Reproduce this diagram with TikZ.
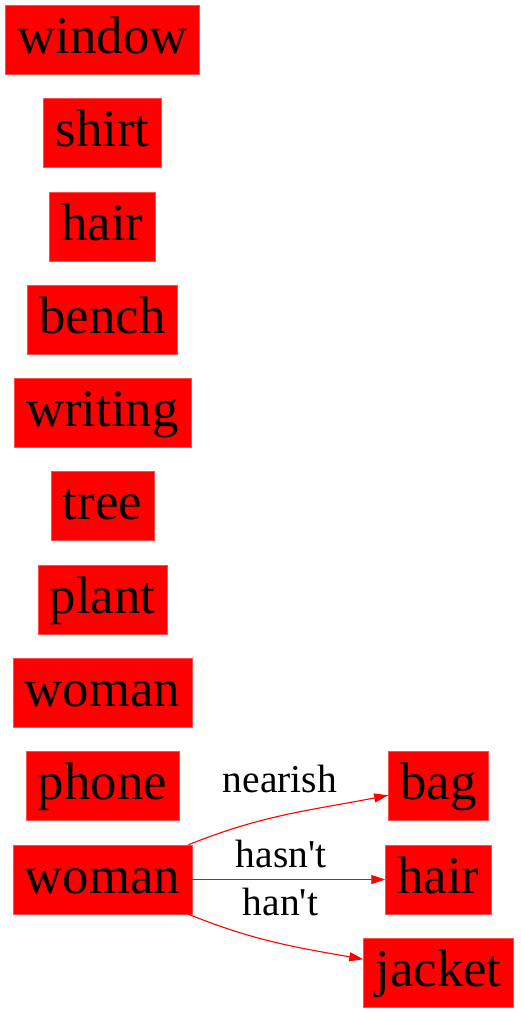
\documentclass[tikz,border=0pt]{standalone}
\usepackage{fontspec}
\setmainfont{Liberation Serif}
\usetikzlibrary{arrows.meta}
\tikzset{
  objbox/.style={fill=red,draw=red!70,line width=0.4pt,inner xsep=12pt,inner ysep=0pt,
    minimum height=69pt,text height=41pt,text depth=13pt,
    font=\fontsize{52.8}{60}\selectfont},
  rel/.style={draw=red,line width=1.1pt,-{Triangle[length=14pt,width=9pt]}},
  rellabel/.style={anchor=base,inner sep=0pt,font=\fontsize{39.5}{45}\selectfont}
}
\begin{document}
\begin{tikzpicture}[x=1pt,y=1pt]
  \useasboundingbox (0,0) rectangle (520,-1013);
  % left column
  \node[objbox] (window) at (102.5,-39.5) {window};
  \node[objbox] (shirt) at (102.5,-132.5) {shirt};
  \node[objbox] (hairA) at (102.5,-226.5) {hair};
  \node[objbox] (bench) at (102.5,-319.5) {bench};
  \node[objbox] (writing) at (102.5,-412.5) {writing};
  \node[objbox] (tree) at (102.5,-505.5) {tree};
  \node[objbox] (plant) at (102.5,-599.5) {plant};
  \node[objbox] (womanA) at (102.5,-692.5) {woman};
  \node[objbox] (phone) at (102.5,-785.5) {phone};
  \node[objbox] (womanB) at (102.5,-879.5) {woman};
  % right column
  \node[objbox] (bag) at (438.5,-785.5) {bag};
  \node[objbox] (hairB) at (438.5,-879.5) {hair};
  \node[objbox] (jacket) at (438.5,-972.5) {jacket};
  % relations
  \draw[rel] (womanB) to[out=22,in=191] (bag);
  \draw[rel] (womanB) -- (hairB);
  \draw[rel] (womanB) to[out=-22,in=170] (jacket);
  \node[rellabel] (lnearish) at (280,-792) {nearish};
  \node[rellabel] (lhasnt) at (281,-867) {hasn\textquotesingle t};
  \node[rellabel] (lhant) at (280.5,-915) {han\textquotesingle t};
\end{tikzpicture}
\end{document}
